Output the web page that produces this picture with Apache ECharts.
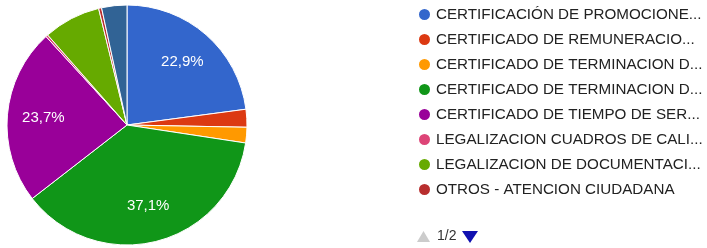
<!DOCTYPE html>
<html>
<head>
<meta charset="utf-8">
<script src="https://cdn.jsdelivr.net/npm/echarts@6/dist/echarts.min.js"></script>
<style>
  html, body { margin: 0; padding: 0; background: #fff; }
  #main { width: 707px; height: 248px; }
</style>
</head>
<body>
<div id="main"></div>
<script>
var categories = [
    'CERTIFICACIÓN DE PROMOCIONES DE ESTUDIO',
    'CERTIFICADO DE REMUNERACIONES',
    'CERTIFICADO DE TERMINACION DE ESTUDIOS',
    'CERTIFICADO DE TERMINACION DE NIVEL',
    'CERTIFICADO DE TIEMPO DE SERVICIOS',
    'LEGALIZACION CUADROS DE CALIFICACIONES',
    'LEGALIZACION DE DOCUMENTACION',
    'OTROS - ATENCION CIUDADANA',
    'SOLICITUD DE CONSTANCIAS'
];
var values = [22.9, 2.4, 2.1, 37.1, 23.7, 0.3, 7.7, 0.4, 3.4];
var colors = ['#3366cc', '#dc3912', '#ff9900', '#109618', '#990099',
              '#dd4477', '#66aa00', '#b82e2e', '#316395'];
// legend shows first page only (8 of 9)
var pageSize = 8;
var pageText = '1/2';

var center = [127, 125];
var radius = 120;
var fontFamily = 'Arial, "Liberation Sans", sans-serif';

var total = values.reduce(function (a, b) { return a + b; }, 0);
var chart = echarts.init(document.getElementById('main'));

var option = {
    backgroundColor: '#fff',
    color: colors,
    legend: {
        orient: 'vertical',
        left: 412,
        top: 1,
        data: categories.slice(0, pageSize),
        icon: 'circle',
        itemWidth: 13,
        itemHeight: 13,
        itemGap: 8,
        selectedMode: false,
        textStyle: {
            color: '#222',
            fontSize: 15.2,
            fontFamily: fontFamily,
            lineHeight: 17,
            width: 270,
            overflow: 'truncate',
            ellipsis: '...'
        }
    },
    // page control below the legend
    graphic: [
        {
            type: 'polygon',
            shape: { points: [[417, 242], [430, 242], [423.5, 231]] },
            style: { fill: '#cccccc' }
        },
        {
            type: 'text',
            left: 437,
            top: 229,
            style: { text: pageText, fill: '#333', fontSize: 14, fontFamily: fontFamily }
        },
        {
            type: 'polygon',
            shape: { points: [[462, 231], [478, 231], [470, 243]] },
            style: { fill: '#1010b0' }
        }
    ],
    series: [{
        type: 'pie',
        center: center,
        radius: [0, radius],
        startAngle: 90,
        clockwise: true,
        avoidLabelOverlap: false,
        itemStyle: { borderColor: '#fff', borderWidth: 1 },
        label: {
            show: true,
            position: 'inside',
            color: '#fff',
            fontSize: 15,
            fontFamily: fontFamily,
            formatter: function (p) {
                if (p.percent < 10) return '';
                return p.percent.toFixed(1).replace('.', ',') + '%';
            }
        },
        labelLine: { show: false },
        labelLayout: function (p) {
            var before = 0;
            for (var i = 0; i < p.dataIndex; i++) before += values[i];
            var mid = (before + values[p.dataIndex] / 2) / total * Math.PI * 2;
            var r = radius * 0.7;
            return {
                x: center[0] + r * Math.sin(mid),
                y: center[1] - r * Math.cos(mid),
                align: 'center',
                verticalAlign: 'middle'
            };
        },
        emphasis: { disabled: true },
        data: categories.map(function (name, i) {
            return { name: name, value: values[i] };
        })
    }]
};

chart.setOption(option);
</script>
</body>
</html>
